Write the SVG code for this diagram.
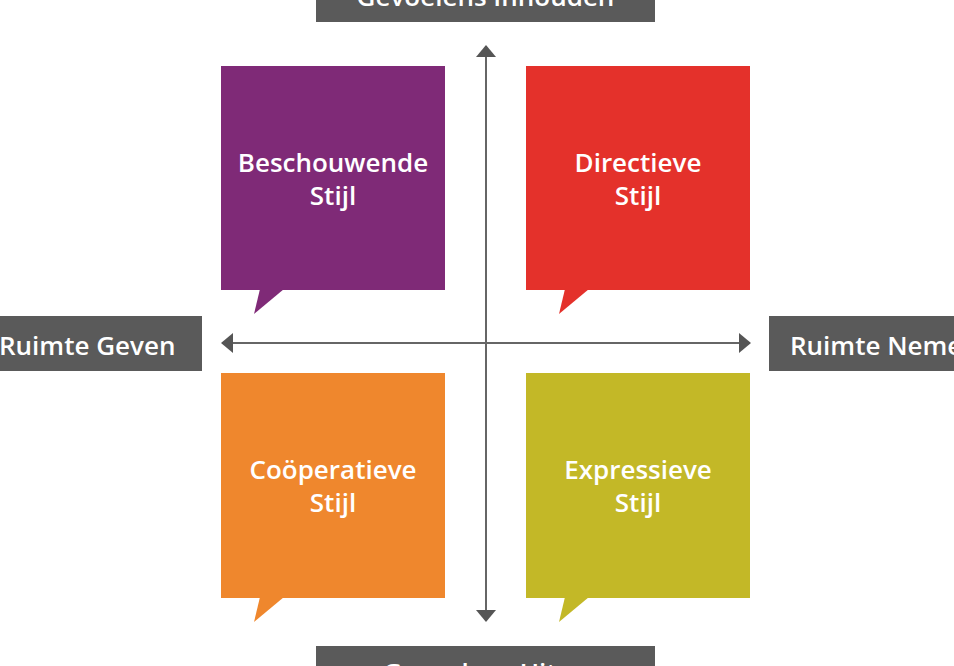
<svg xmlns="http://www.w3.org/2000/svg" width="954" height="666" viewBox="0 0 954 666">
<defs>
<style>
.lbl{fill:#5a5a5a}
.lt{fill:#ffffff;font-family:"Open Sans","Liberation Sans",sans-serif;font-weight:600;font-size:26px}
.qt{fill:#ffffff;font-family:"Open Sans","Liberation Sans",sans-serif;font-weight:600;font-size:26px;text-anchor:middle}
.axis{stroke:#666666;stroke-width:2;fill:none}
</style>
<marker id="ah" viewBox="0 0 12 20" refX="11" refY="10" markerWidth="12" markerHeight="20" markerUnits="userSpaceOnUse" orient="auto-start-reverse">
<path d="M0,0 L12,10 L0,20 Z" fill="#555555"/>
</marker>
</defs>
<rect width="954" height="666" fill="#ffffff"/>
<g id="connectors">
<line class="axis" x1="486" y1="46" x2="486" y2="621" marker-start="url(#ah)" marker-end="url(#ah)"/>
<line class="axis" x1="222" y1="343" x2="750" y2="343" marker-start="url(#ah)" marker-end="url(#ah)"/>
</g>
<g id="label-top">
<rect class="lbl" x="316" y="-20" width="339" height="42"/>
<text class="lt" x="485.5" y="6" text-anchor="middle">Gevoelens Inhouden</text>
</g>
<g id="label-bottom">
<rect class="lbl" x="316" y="646" width="339" height="40"/>
<text class="lt" x="485.5" y="682" text-anchor="middle">Gevoelens Uiten</text>
</g>
<g id="label-left">
<rect class="lbl" x="-20" y="316" width="222" height="55"/>
<text class="lt" x="-1" y="355">Ruimte Geven</text>
</g>
<g id="label-right">
<rect class="lbl" x="769" y="316" width="210" height="55"/>
<text class="lt" x="790" y="355">Ruimte Nemen</text>
</g>
<g id="beschouwende">
<rect x="221" y="66" width="224" height="224" fill="#7f2a77"/>
<polygon points="260,289 254,314 284,289" fill="#7f2a77"/>
<text class="qt" x="333" y="172">Beschouwende</text>
<text class="qt" x="333" y="205">Stijl</text>
</g>
<g id="directieve">
<rect x="526" y="66" width="224" height="224" fill="#e4312b"/>
<polygon points="565,289 559,314 589,289" fill="#e4312b"/>
<text class="qt" x="638" y="172">Directieve</text>
<text class="qt" x="638" y="205">Stijl</text>
</g>
<g id="cooperatieve">
<rect x="221" y="373" width="224" height="225" fill="#ef872d"/>
<polygon points="260,597 254,622 284,597" fill="#ef872d"/>
<text class="qt" x="333" y="479">Coöperatieve</text>
<text class="qt" x="333" y="512">Stijl</text>
</g>
<g id="expressieve">
<rect x="526" y="373" width="224" height="225" fill="#c3b827"/>
<polygon points="565,597 559,622 589,597" fill="#c3b827"/>
<text class="qt" x="638" y="479">Expressieve</text>
<text class="qt" x="638" y="512">Stijl</text>
</g>
</svg>
